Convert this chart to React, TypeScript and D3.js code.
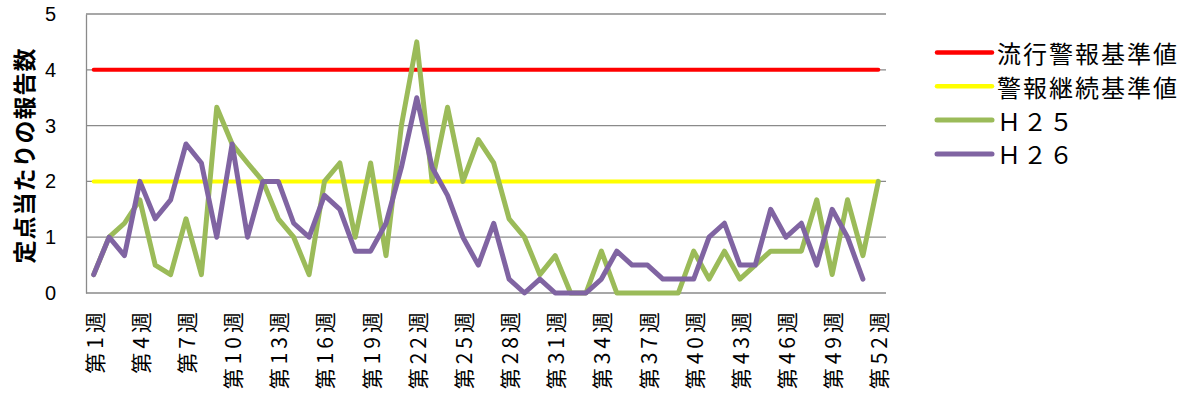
import { useEffect, useRef } from "react";
import * as d3 from "d3";

// week numbers 1..52 (category axis)
const weeks: number[] = d3.range(1, 53);
const weekLabels: string[] = weeks.map(w => `第${w}週`);
const labelEvery = 3;

// reports per sentinel site
const h25: (number | null)[] = [
    0.33, 1.0, 1.25, 1.67, 0.5, 0.33, 1.33, 0.33, 3.33, 2.67,
    2.33, 2.0, 1.33, 1.0, 0.33, 2.0, 2.33, 1.0, 2.33, 0.67,
    3.0, 4.5, 2.0, 3.33, 2.0, 2.75, 2.33, 1.33, 1.0, 0.33,
    0.67, 0, 0, 0.75, 0, 0, 0, 0, 0, 0.75,
    0.25, 0.75, 0.25, 0.5, 0.75, 0.75, 0.75, 1.67, 0.33, 1.67,
    0.67, 2.0,
];
const h26: (number | null)[] = [
    0.33, 1.0, 0.67, 2.0, 1.33, 1.67, 2.67, 2.33, 1.0, 2.67,
    1.0, 2.0, 2.0, 1.25, 1.0, 1.75, 1.5, 0.75, 0.75, 1.25,
    2.25, 3.5, 2.25, 1.75, 1.0, 0.5, 1.25, 0.25, 0, 0.25,
    0, 0, 0, 0.25, 0.75, 0.5, 0.5, 0.25, 0.25, 0.25,
    1.0, 1.25, 0.5, 0.5, 1.5, 1.0, 1.25, 0.5, 1.5, 1.0,
    0.25, null,
];
const epidemicLevel = 4; // 流行警報基準値
const continueLevel = 2; // 警報継続基準値

const yTicks = [0, 1, 2, 3, 4, 5];

const seriesNames = ["流行警報基準値", "警報継続基準値", "Ｈ２５", "Ｈ２６"];
const seriesColors = ["#ff0000", "#ffff00", "#9bbb59", "#8064a2"];

export default function App() {
    const svgRef = useRef<SVGSVGElement | null>(null);

    useEffect(() => {
        const width = 1187;
        const height = 404;
        const marginLeft = 86;
        const plotRight = 886;
        const marginTop = 14;
        const plotBottom = 293;
        const gridColor = "#8a8a8a";

        const svg = d3.select(svgRef.current);
        svg.selectAll("*").remove();
        svg.attr("width", width).attr("height", height).attr("viewBox", `0 0 ${width} ${height}`);

        const x = d3.scalePoint<number>()
            .domain(weeks)
            .range([marginLeft, plotRight])
            .padding(0.5);

        const y = d3.scaleLinear()
            .domain([0, 5])
            .range([plotBottom, marginTop]);

        // gridlines
        svg.append("g")
            .selectAll("line")
            .data(yTicks)
            .enter()
            .append("line")
            .attr("x1", marginLeft)
            .attr("x2", plotRight)
            .attr("y1", d => y(d))
            .attr("y2", d => y(d))
            .attr("stroke", gridColor)
            .attr("stroke-width", 1.3);

        // y axis
        svg.append("g")
            .attr("transform", `translate(${marginLeft},0)`)
            .call(d3.axisLeft(y).tickValues(yTicks).tickSize(0).tickPadding(30).tickFormat(d3.format("d")))
            .call(g => g.select(".domain").attr("stroke", gridColor).attr("stroke-width", 1.3))
            .call(g => g.selectAll("text")
                .attr("font-family", "'Liberation Sans', Arial, sans-serif")
                .attr("font-size", 20)
                .attr("fill", "#000"));

        // y title
        svg.append("text")
            .attr("transform", `translate(23,${(marginTop + plotBottom) / 2 + 2}) rotate(-90)`)
            .attr("text-anchor", "middle")
            .attr("dominant-baseline", "central")
            .attr("font-family", "'Noto Sans CJK JP', sans-serif")
            .attr("font-weight", "bold")
            .attr("font-size", 23)
            .attr("letter-spacing", 1)
            .text("定点当たりの報告数");

        // x labels
        svg.append("g")
            .selectAll("text")
            .data(weeks.filter((_, i) => i % labelEvery === 0))
            .enter()
            .append("text")
            .attr("transform", d => `translate(${x(d)},${plotBottom + 15}) rotate(-90)`)
            .attr("text-anchor", "end")
            .attr("dominant-baseline", "central")
            .attr("font-family", "'Noto Sans CJK JP', sans-serif")
            .attr("font-size", 21)
            .attr("letter-spacing", 4)
            .text(d => weekLabels[d - 1]);

        const line = d3.line<number | null>()
            .defined(d => d != null)
            .x((_, i) => x(weeks[i]) as number)
            .y(d => y(d as number));

        const lines: { values: (number | null)[]; color: string; width: number }[] = [
            { values: weeks.map(() => epidemicLevel), color: seriesColors[0], width: 4 },
            { values: weeks.map(() => continueLevel), color: seriesColors[1], width: 4 },
            { values: h25, color: seriesColors[2], width: 5 },
            { values: h26, color: seriesColors[3], width: 5 },
        ];

        svg.append("g")
            .selectAll("path")
            .data(lines)
            .enter()
            .append("path")
            .attr("d", d => line(d.values))
            .attr("fill", "none")
            .attr("stroke", d => d.color)
            .attr("stroke-width", d => d.width)
            .attr("stroke-linejoin", "round")
            .attr("stroke-linecap", "round");

        // legend
        const legend = svg.append("g")
            .selectAll("g")
            .data(seriesNames)
            .enter()
            .append("g")
            .attr("transform", (_, i) => `translate(937,${52.5 + i * 33.8})`);

        legend.append("line")
            .attr("x1", 0)
            .attr("x2", 55)
            .attr("stroke", (_, i) => seriesColors[i])
            .attr("stroke-width", (_, i) => (i < 2 ? 4.5 : 5))
            .attr("stroke-linecap", "round");

        legend.append("text")
            .attr("x", 60)
            .attr("dominant-baseline", "central")
            .attr("font-family", "'Noto Sans CJK JP', sans-serif")
            .attr("font-size", 24)
            .attr("letter-spacing", 2)
            .text(d => d);
    }, []);

    return (
        <svg ref={svgRef} style={{ position: "absolute", left: 0, top: 0, background: "#fff" }} />
    );
}
